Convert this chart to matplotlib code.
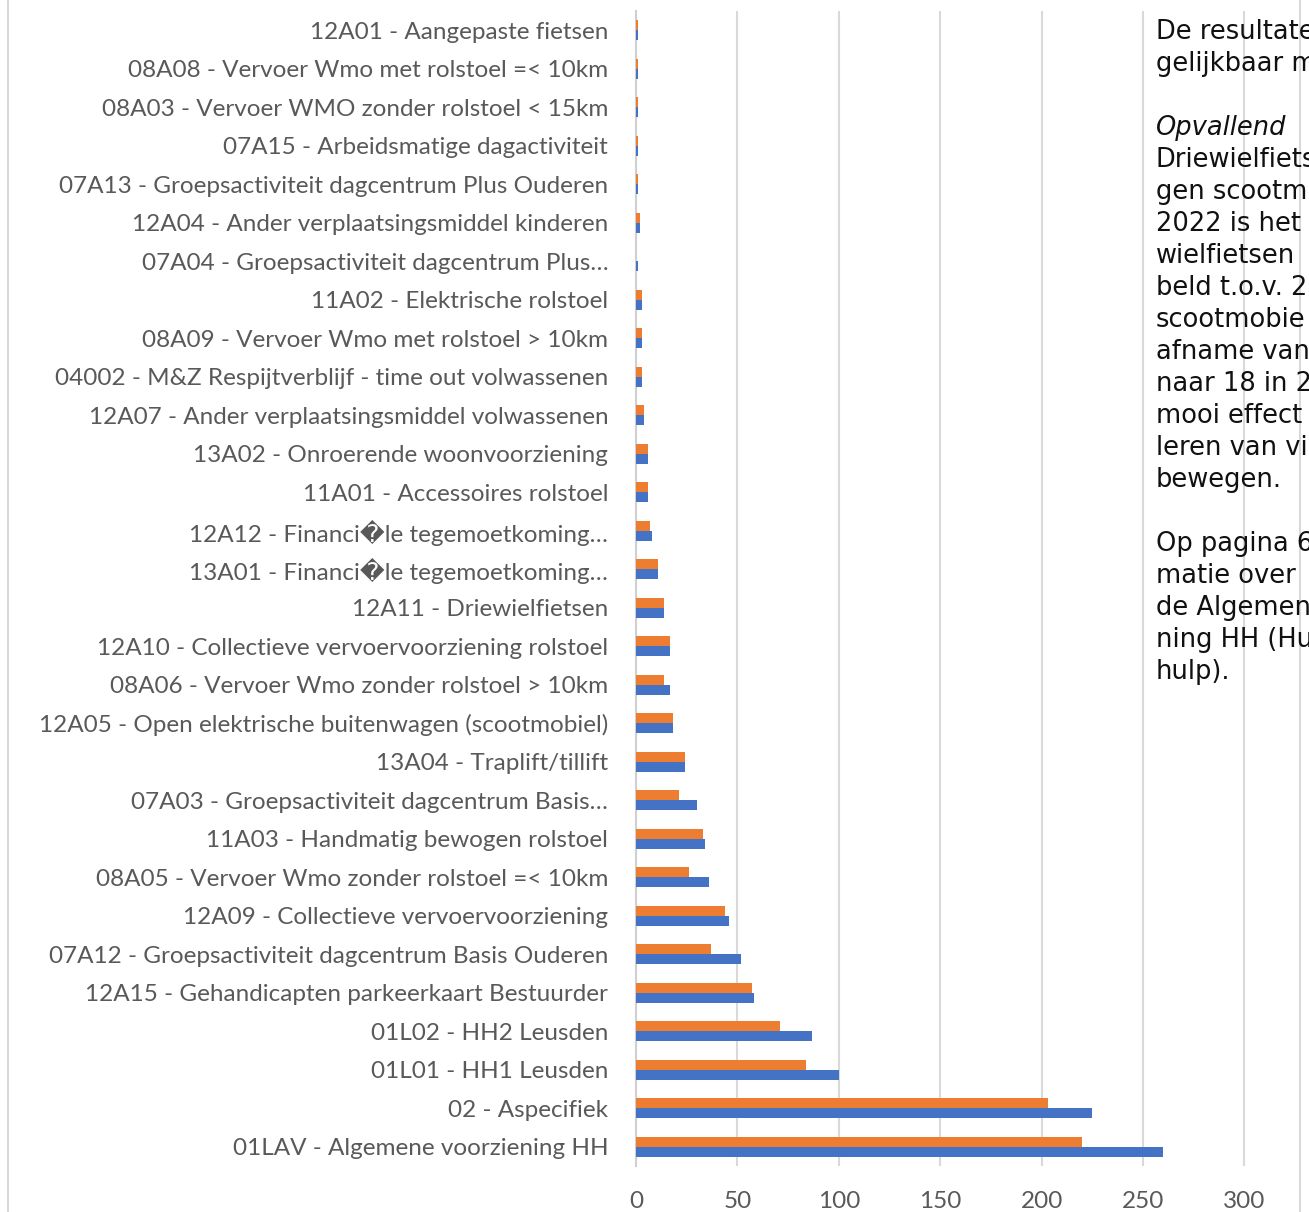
import matplotlib.pyplot as plt
from matplotlib.lines import Line2D
import numpy as np

# categories, top to bottom as in the chart
labels = [
    "12A01 - Aangepaste fietsen",
    "08A08 - Vervoer Wmo met rolstoel =< 10km",
    "08A03 - Vervoer WMO zonder rolstoel < 15km",
    "07A15 - Arbeidsmatige dagactiviteit",
    "07A13 - Groepsactiviteit dagcentrum Plus Ouderen",
    "12A04 - Ander verplaatsingsmiddel kinderen",
    "07A04 - Groepsactiviteit dagcentrum Plus\u2026",
    "11A02 - Elektrische rolstoel",
    "08A09 - Vervoer Wmo met rolstoel > 10km",
    "04002 - M&Z Respijtverblijf - time out volwassenen",
    "12A07 - Ander verplaatsingsmiddel volwassenen",
    "13A02 - Onroerende woonvoorziening",
    "11A01 - Accessoires rolstoel",
    "12A12 - Financi\ufffdle tegemoetkoming\u2026",
    "13A01 - Financi\ufffdle tegemoetkoming\u2026",
    "12A11 - Driewielfietsen",
    "12A10 - Collectieve vervoervoorziening rolstoel",
    "08A06 - Vervoer Wmo zonder rolstoel > 10km",
    "12A05 - Open elektrische buitenwagen (scootmobiel)",
    "13A04 - Traplift/tillift",
    "07A03 - Groepsactiviteit dagcentrum Basis\u2026",
    "11A03 - Handmatig bewogen rolstoel",
    "08A05 - Vervoer Wmo zonder rolstoel =< 10km",
    "12A09 - Collectieve vervoervoorziening",
    "07A12 - Groepsactiviteit dagcentrum Basis Ouderen",
    "12A15 - Gehandicapten parkeerkaart Bestuurder",
    "01L02 - HH2 Leusden",
    "01L01 - HH1 Leusden",
    "02 - Aspecifiek",
    "01LAV - Algemene voorziening HH",
]

orange_vals = [1, 1, 1, 1, 1, 2, 0, 3, 3, 3, 4, 6, 6, 7, 11, 14, 17, 14, 18, 24,
               21, 33, 26, 44, 37, 57, 71, 84, 203, 220]
blue_vals = [1, 1, 1, 1, 1, 2, 1, 3, 3, 3, 4, 6, 6, 8, 11, 14, 17, 17, 18, 24,
             30, 34, 36, 46, 52, 58, 87, 100, 225, 260]

x_ticks = [0, 50, 100, 150, 200, 250, 300]

side_text = [
    ("De resultate", "normal"),
    ("gelijkbaar m", "normal"),
    ("", "normal"),
    ("Opvallend", "italic"),
    ("Driewielfiets", "normal"),
    ("gen scootm", "normal"),
    ("2022 is het", "normal"),
    ("wielfietsen", "normal"),
    ("beld t.o.v. 2", "normal"),
    ("scootmobie", "normal"),
    ("afname van", "normal"),
    ("naar 18 in 2", "normal"),
    ("mooi effect", "normal"),
    ("leren van vi", "normal"),
    ("bewegen.", "normal"),
    ("", "normal"),
    ("Op pagina 6", "normal"),
    ("matie over", "normal"),
    ("de Algemen", "normal"),
    ("ning HH (Hu", "normal"),
    ("hulp).", "normal"),
]

ORANGE = "#ED7D31"
BLUE = "#4472C4"
GREY_TXT = "#595959"

W, H = 1309, 1212
fig = plt.figure(figsize=(W / 100, H / 100), dpi=100)

# axes placed in pixel terms: x=0 at 636px, 2.028 px per unit
left_px, bottom_px, top_px = 636, 1166, 11
ax = fig.add_axes([left_px / W, 1 - bottom_px / H, 1 - left_px / W,
                   (bottom_px - top_px) / H])

y = np.arange(len(labels))
h = 0.265
ax.barh(y - h / 2, orange_vals, height=h, color=ORANGE, zorder=3)
ax.barh(y + h / 2, blue_vals, height=h, color=BLUE, zorder=3)

ax.set_ylim(len(labels) - 0.5, -0.5)
ax.set_xlim(0, (W - left_px) / 2.028)
ax.set_xticks(x_ticks)
ax.set_yticks(y)
ax.set_yticklabels(labels, family=["Lato", "DejaVu Sans"], fontsize=17.5,
                   color=GREY_TXT)
for t in ax.get_xticklabels():
    t.set_family("Lato")
    t.set_fontsize(17.5)
    t.set_color(GREY_TXT)
ax.tick_params(axis="y", length=0, pad=20)
ax.tick_params(axis="x", length=0, pad=18)
ax.grid(axis="x", color="#D9D9D9", linewidth=1.5, zorder=0)
for s in ("top", "right", "bottom"):
    ax.spines[s].set_visible(False)
ax.spines["left"].set_color("#D0D0D0")
ax.spines["left"].set_linewidth(1.5)

# chart frame edges
fig.add_artist(Line2D([8 / W, 8 / W], [0, 1], color="#D9D9D9", lw=1.5))
fig.add_artist(Line2D([1300 / W, 1300 / W], [0, 1], color="#D9D9D9", lw=1.5))

# overlapping document text on the right
for i, (line, style) in enumerate(side_text):
    if not line:
        continue
    yc = 32 + i * 32
    fig.text(1156 / W, 1 - yc / H, line, fontsize=18.5, family="DejaVu Sans",
             style=style, color="#111111", va="center", ha="left")

fig.savefig("out.png", dpi=100)
